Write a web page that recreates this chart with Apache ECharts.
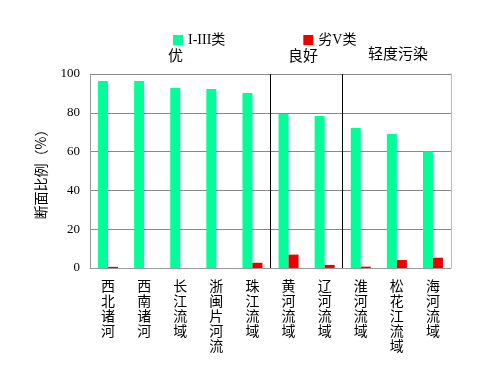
<!DOCTYPE html>
<html><head><meta charset="utf-8">
<script src="https://cdn.jsdelivr.net/npm/echarts@6/dist/echarts.min.js"></script>
<style>html,body{margin:0;padding:0;background:#fff}#c{width:482px;height:367px}</style>
</head><body><div id="c"></div>
<script>
const categories = ['西北诸河','西南诸河','长江流域','浙闽片河流','珠江流域','黄河流域','辽河流域','淮河流域','松花江流域','海河流域'];
const goodValues = [96.4, 96.4, 92.8, 92.3, 90.2, 79.4, 78.4, 72.2, 69.1, 60.0];
const badValues = [0.6, 0, 0, 0, 2.7, 6.9, 1.6, 0.7, 4.1, 5.3];
const seriesNames = ['I-III类', '劣V类'];
const groupLabels = ['优', '良好', '轻度污染'];
const separators = [5, 7];
const yTicks = [0, 20, 40, 60, 80, 100];

const cjk = '"Liberation Serif","Noto Sans CJK SC",serif';
const chart = echarts.init(document.getElementById('c'));
chart.setOption({
  animation: false,
  backgroundColor: '#fff',
  legend: {
    left: 168, top: 28, itemWidth: 10, itemHeight: 10, itemGap: 78,
    icon: 'rect',
    textStyle: {fontSize: 14, fontFamily: cjk, color: '#000'},
    data: seriesNames
  },
  graphic: [
    {type:'text', left: 168, top: 48, style:{text: groupLabels[0], font: '15px "Noto Sans CJK SC"', fill:'#000'}},
    {type:'text', left: 288, top: 48, style:{text: groupLabels[1], font: '15px "Noto Sans CJK SC"', fill:'#000'}},
    {type:'text', left: 368, top: 46, style:{text: groupLabels[2], font: '15px "Noto Sans CJK SC"', fill:'#000'}}
  ],
  grid: {left: 90, right: 31, top: 74, bottom: 99},
  xAxis: [{
    type: 'category', data: categories,
    axisLine: {lineStyle: {color: '#999'}},
    axisTick: {inside: true, length: 6, lineStyle: {color: '#999'}},
    axisLabel: {
      interval: 0, margin: 10, fontSize: 14, lineHeight: 15, color: '#000',
      fontFamily: '"Noto Sans CJK SC"',
      formatter: v => v.split('').join('\n')
    }
  }, {
    type: 'value', min: 0, max: categories.length, show: false
  }],
  yAxis: [{
    type: 'value', min: 0, max: 100, interval: 20,
    name: '断面比例（%）', nameLocation: 'middle', nameGap: 42, nameRotate: 90,
    nameTextStyle: {fontSize: 14, fontFamily: '"Noto Sans CJK SC"', color: '#000'},
    axisLine: {show: true, lineStyle: {color: '#999'}},
    axisTick: {show: false},
    axisLabel: {fontSize: 13, fontFamily: '"Liberation Serif"', color: '#000', margin: 10,
      formatter: v => yTicks.includes(v) ? String(v) : ''},
    splitLine: {show: true, lineStyle: {color: '#888', width: 1}}
  }, {
    type: 'value', min: 0, max: 100, position: 'right',
    axisLine: {show: true, lineStyle: {color: '#bbb'}},
    axisTick: {show: false}, axisLabel: {show: false}, splitLine: {show: false}
  }],
  series: [{
    name: seriesNames[0], type: 'bar', data: goodValues, barWidth: 10, barGap: '0%',
    itemStyle: {color: '#00ff99'}
  }, {
    name: seriesNames[1], type: 'bar', data: badValues, barWidth: 10, barGap: '0%',
    itemStyle: {color: '#ee0000'}
  }, {
    type: 'line', xAxisIndex: 1, yAxisIndex: 0, data: [],
    markLine: {
      silent: true, symbol: 'none', label: {show: false},
      lineStyle: {color: '#000', type: 'solid', width: 1},
      data: separators.map(s => ({xAxis: s}))
    }
  }]
});
</script></body></html>
